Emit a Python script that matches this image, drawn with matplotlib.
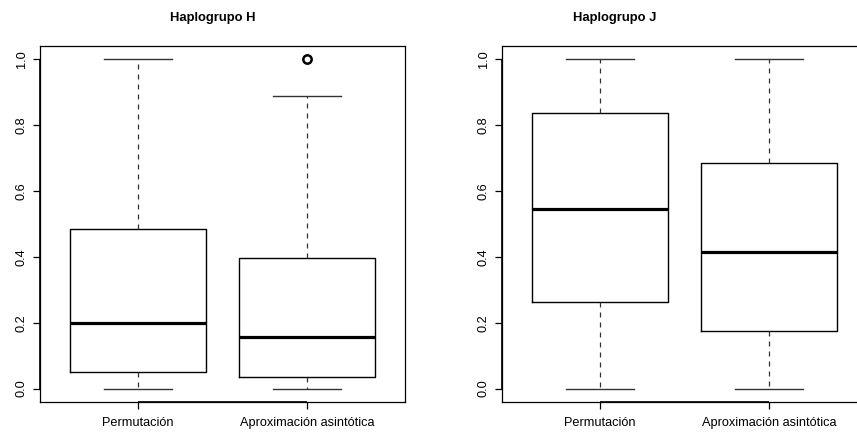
import matplotlib
matplotlib.use("Agg")
import matplotlib.pyplot as plt

plt.rcParams['font.family'] = ['Liberation Sans', 'DejaVu Sans']

categories = ["Permutación", "Aproximación asintótica"]
titles = ["Haplogrupo H", "Haplogrupo J"]

# Haplogrupo H
h_whislo = [0.0, 0.0]
h_q1 = [0.050, 0.035]
h_med = [0.199, 0.155]
h_q3 = [0.483, 0.395]
h_whishi = [1.0, 0.888]
h_fliers = [[], [1.0]]

# Haplogrupo J
j_whislo = [0.0, 0.0]
j_q1 = [0.264, 0.175]
j_med = [0.546, 0.416]
j_q3 = [0.837, 0.684]
j_whishi = [1.0, 1.0]
j_fliers = [[], []]

yticks = [0.0, 0.2, 0.4, 0.6, 0.8, 1.0]

W, H = 857, 434
fig = plt.figure(figsize=(W / 100, H / 100), dpi=100)

def px_axes(x0, y0, x1, y1):
    return fig.add_axes([x0 / W, 1 - y1 / H, (x1 - x0) / W, (y1 - y0) / H])

panels = [
    (px_axes(40, 46, 405, 401.7), (h_whislo, h_q1, h_med, h_q3, h_whishi, h_fliers), titles[0], 213),
    (px_axes(502, 46, 867, 401.7), (j_whislo, j_q1, j_med, j_q3, j_whishi, j_fliers), titles[1], 615),
]

for ax, (wl, q1, md, q3, wh, fl), title, tx in panels:
    stats = []
    for i, lab in enumerate(categories):
        stats.append(dict(label=lab, whislo=wl[i], q1=q1[i], med=md[i],
                          q3=q3[i], whishi=wh[i], fliers=fl[i]))
    ax.bxp(stats, positions=[1, 2], widths=0.8, showfliers=True,
           boxprops=dict(color='black', linewidth=1.0),
           medianprops=dict(color='black', linewidth=2.3, solid_capstyle='butt'),
           whiskerprops=dict(color='#333333', linewidth=0.9, linestyle=(0, (4, 4))),
           capprops=dict(color='#333333', linewidth=1.0),
           capwidths=0.4,
           flierprops=dict(marker='o', markersize=6, markerfacecolor='none',
                           markeredgecolor='black', markeredgewidth=1.8))
    ax.set_xlim(0.42, 2.58)
    ax.set_ylim(-0.04, 1.04)
    ax.set_xticks([1, 2])
    ax.set_xticklabels(categories, fontsize=9.2)
    ax.set_yticks(yticks)
    ax.set_yticklabels([f"{v:.1f}" for v in yticks], fontsize=9.2,
                       rotation=90, va='center')
    ax.tick_params(axis='both', direction='out', length=5, width=0.9, color='black')
    ax.tick_params(axis='y', pad=4)
    ax.tick_params(axis='x', pad=6)
    for s in ax.spines.values():
        s.set_color('black')
        s.set_linewidth(0.9)
    # R-style axis lines spanning ticks
    ax.plot([1, 2], [-0.04, -0.04], color='black', lw=1.2, clip_on=False, solid_capstyle='butt')
    ax.plot([0.42, 0.42], [0.0, 1.0], color='black', lw=1.2, clip_on=False, solid_capstyle='butt')
    fig.text(tx / W, 1 - 18 / H, title, ha='center', va='center',
             fontsize=9.4, fontweight='bold')

fig.savefig("out.png", dpi=100)
